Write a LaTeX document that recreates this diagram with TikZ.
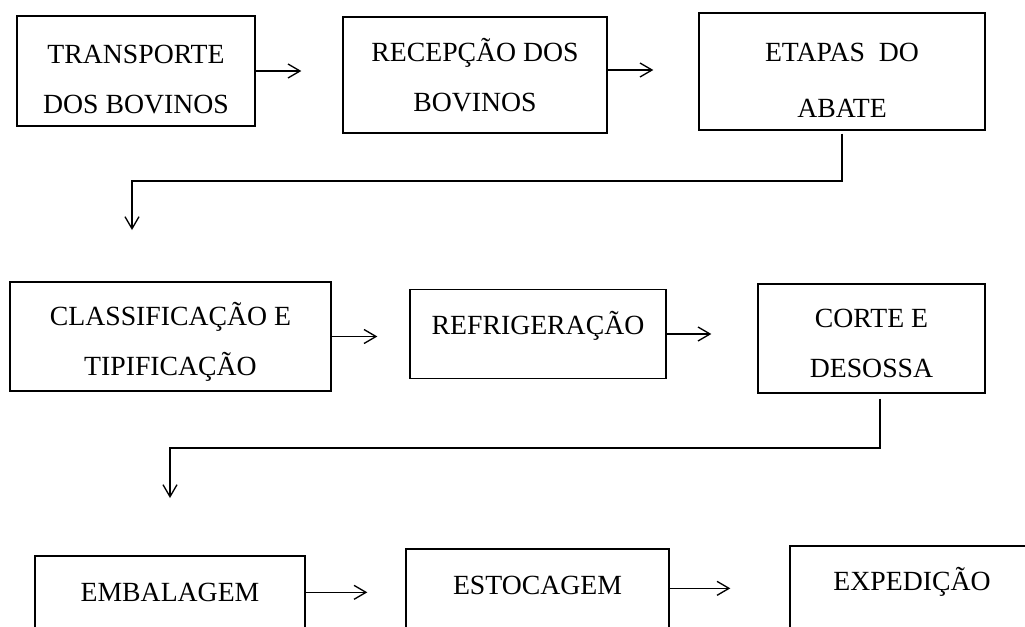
\documentclass[tikz,border=0pt]{standalone}
\usepackage{fontspec}
\setmainfont{Liberation Serif}
\usepackage{tikz}
\usetikzlibrary{calc,positioning,arrows.meta}
\newlength\pxu
\setlength\pxu{0.75pt}
\newcommand{\hoch}[1]{\rule{0pt}{#1}}

\begin{document}
\begin{tikzpicture}[x=\pxu,y=-\pxu,
		etapa/.style={draw,line width=1pt,align=center,inner sep=0pt,font=\fontsize{20.8pt}{37.5pt}\selectfont},
		seta/.style={line width=1pt,-{Straight Barb[length=9pt,width=10.5pt]}}]
		\useasboundingbox (0,0) rectangle (1025,626);
		\clip (0,0) rectangle (1025,626);

		\node[etapa,minimum width=238\pxu,minimum height=110\pxu] (transporte) at (136,71) {\hoch{26pt}TRANSPORTE\\DOS BOVINOS};
		\node[etapa,minimum width=264\pxu,minimum height=116\pxu] (recepcao) at (475,75) {RECEPÇÃO DOS\\BOVINOS};
		\node[etapa,minimum width=286\pxu,minimum height=117\pxu] (abate) at (842,71.5) {\hoch{27.5pt}ETAPAS~ DO\\[4.5pt]ABATE};

		\node[etapa,minimum width=321\pxu,minimum height=109\pxu] (classif) at (170.5,336.5) {\hoch{25.5pt}CLASSIFICAÇÃO E\\TIPIFICAÇÃO};
		\node[etapa,minimum width=256\pxu,minimum height=89\pxu,text depth=17pt] (refrig) at (538,334) {REFRIGERAÇÃO};
		\node[etapa,minimum width=227\pxu,minimum height=109\pxu] (corte) at (871.5,338.5) {\hoch{21.5pt}CORTE E\\DESOSSA};

		\node[etapa,minimum width=270\pxu,minimum height=122\pxu] (embalagem) at (170,617) {EMBALAGEM\\{}};
		\node[etapa,minimum width=263\pxu,minimum height=122\pxu] (estocagem) at (537.5,610) {ESTOCAGEM\\{}};
		\node[etapa,minimum width=244\pxu,minimum height=116\pxu] (expedicao) at (912,604) {EXPEDIÇÃO\\{}};

		\coordinate (k1) at (132,181);
		\coordinate (d1) at (132,230);
		\coordinate (k2) at (170,448);
		\coordinate (d2) at (170,498);

		\draw[seta,shorten >=41\pxu] (transporte.east) -- (transporte.east -| recepcao.west);
		\draw[seta,shorten >=45\pxu] ([yshift=5\pxu]recepcao.east) -- ([yshift=5\pxu]recepcao.east -| abate.west);
		\draw[seta,shorten <=3\pxu] (abate.south) |- (k1) -- (d1);

		\draw[seta,shorten >=32\pxu] (classif.east) -- (classif.east -| refrig.west);
		\draw[seta,shorten >=46\pxu] (refrig.east) -- (refrig.east -| corte.west);
		\draw[seta,shorten <=5\pxu] ([xshift=8.5\pxu]corte.south) |- (k2) -- (d2);

		\draw[seta,shorten >=38\pxu] ([yshift=-37\pxu]embalagem.north east) -- ([yshift=-37\pxu]embalagem.north east -| estocagem.west);
		\draw[seta,shorten >=59\pxu] ([yshift=-40\pxu]estocagem.north east) -- ([yshift=-40\pxu]estocagem.north east -| expedicao.west);
	\end{tikzpicture}
\end{document}
